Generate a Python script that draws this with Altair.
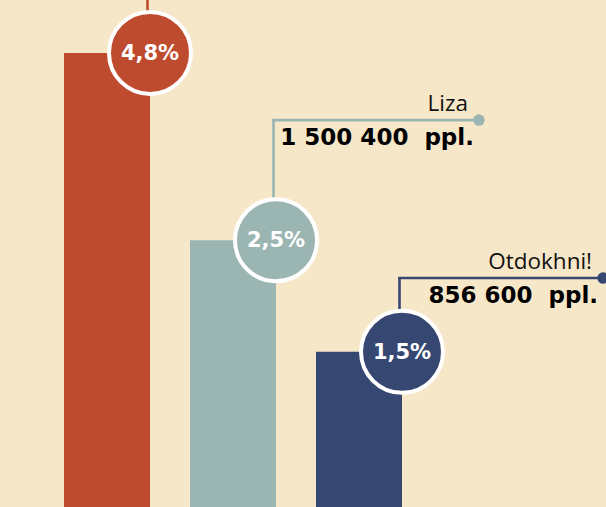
import altair as alt
import pandas as pd

# --- data ---
keys = ["top", "Liza", "Otdokhni!"]
names = ["", "Liza", "Otdokhni!"]
shares = ["4,8%", "2,5%", "1,5%"]
audience = ["", "1\u00a0500\u00a0400\u00a0\u00a0ppl.", "856\u00a0600\u00a0\u00a0ppl."]
bar_heights = [4.8, 2.82, 1.64]          # drawn bar heights (infographic, not to scale)
colors = ["#BE4B2E", "#9BB6B2", "#364872"]
callout_level = [5.6, 4.09, 2.42]        # height of each callout line
callout_end = [None, 2.952, 3.937]       # where each callout line ends (x units)

BG = "#F7E7C9"
half_bar = 0.3413

df = pd.DataFrame({
    "key": keys, "name": names, "share": shares, "ppl": audience,
    "h": bar_heights, "level": callout_level, "end": callout_end,
    "i": list(range(len(keys))),
})

xs = alt.Scale(domain=[-0.8492, 3.9603], nice=False, zero=False)
ys = alt.Scale(domain=[0, 5.3594], nice=False, zero=False)
col = alt.Color("key:N", scale=alt.Scale(domain=keys, range=colors), legend=None)

base = alt.Chart(df).transform_calculate(
    x1=f"datum.i - {half_bar}", x2=f"datum.i + {half_bar}", xr=f"datum.i + {half_bar}"
)

bars = base.mark_bar().encode(
    x=alt.X("x1:Q", scale=xs, axis=None), x2="x2:Q",
    y=alt.Y("h:Q", scale=ys, axis=None), y2=alt.datum(0),
    color=col,
)

vlines = base.mark_rule(strokeWidth=2.6, xOffset=-2.5).encode(
    x=alt.X("xr:Q", scale=xs, axis=None),
    y=alt.Y("h:Q", scale=ys, axis=None), y2="level:Q",
    color=col,
)

withlab = base.transform_filter("datum.end != null")

hlines = withlab.mark_rule(strokeWidth=2.6, xOffset=-3.8).encode(
    x=alt.X("xr:Q", scale=xs, axis=None), x2="end:Q",
    y=alt.Y("level:Q", scale=ys, axis=None),
    color=col,
)

dots = withlab.mark_circle(size=132, opacity=1).encode(
    x=alt.X("end:Q", scale=xs, axis=None),
    y=alt.Y("level:Q", scale=ys, axis=None),
    color=col,
)

circles = base.mark_circle(size=6724, opacity=1, stroke="white", strokeWidth=4).encode(
    x=alt.X("xr:Q", scale=xs, axis=None),
    y=alt.Y("h:Q", scale=ys, axis=None),
    color=col,
)

pct = base.mark_text(font="DejaVu Sans", fontWeight="bold", fontSize=21, color="white",
                     align="center", baseline="middle", dy=1).encode(
    x=alt.X("xr:Q", scale=xs, axis=None),
    y=alt.Y("h:Q", scale=ys, axis=None),
    text="share:N",
)

name_txt = withlab.mark_text(font="Open Sans", fontWeight="normal", fontSize=22.5, color="#111111",
                             align="right", baseline="alphabetic", dx=-11, dy=-9).encode(
    x=alt.X("end:Q", scale=xs, axis=None),
    y=alt.Y("level:Q", scale=ys, axis=None),
    text="name:N",
)

ppl_txt = withlab.mark_text(font="DejaVu Sans", fontWeight="bold", fontSize=23, color="#000000",
                            align="right", baseline="alphabetic", dx=-5, dy=25).encode(
    x=alt.X("end:Q", scale=xs, axis=None),
    y=alt.Y("level:Q", scale=ys, axis=None),
    text="ppl:N",
)

chart = alt.layer(bars, vlines, hlines, dots, circles, pct, name_txt, ppl_txt).properties(
    width=606, height=507, background=BG, padding=0,
    autosize=alt.AutoSizeParams(type="none"),
).configure_view(stroke=None, fill=BG)

chart.save("out.html", embed_options={"renderer": "svg", "actions": False})
